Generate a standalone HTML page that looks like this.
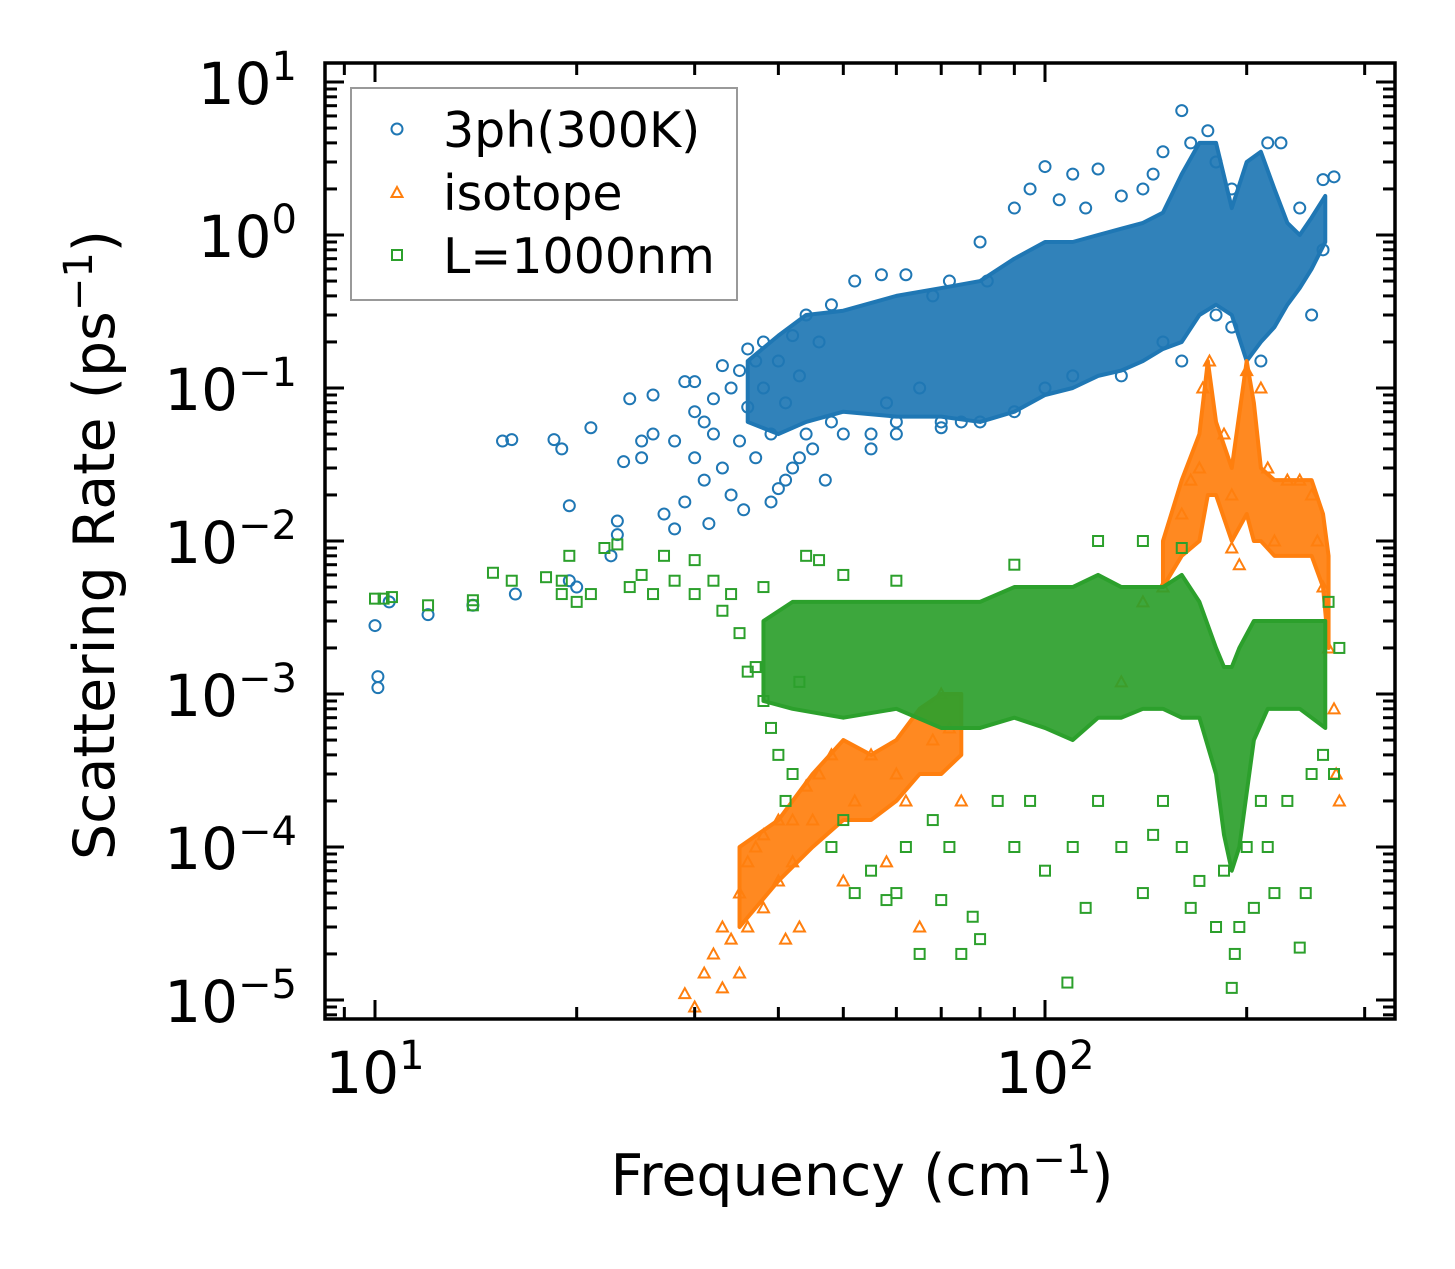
<!DOCTYPE html>
<html><head><meta charset="utf-8"><style>
html,body{margin:0;padding:0;background:#fff;}
svg{display:block;font-family:"DejaVu Sans","Liberation Sans",sans-serif;}
</style></head><body>
<svg id="chart" width="1455" height="1269" viewBox="0 0 1455 1269" xmlns="http://www.w3.org/2000/svg">
<rect width="1455" height="1269" fill="#fff"/>
<g id="marks"></g>
<g id="axes"></g>
<text transform="translate(114,545) rotate(-90)" text-anchor="middle" font-size="57">Scattering Rate (ps<tspan dy="-22" font-size="40">−1</tspan><tspan dy="22">)</tspan></text>
<text x="862" y="1195" text-anchor="middle" font-size="57">Frequency (cm<tspan dy="-22" font-size="40">−1</tspan><tspan dy="22">)</tspan></text>
<g>
<rect x="351" y="88" width="386" height="212" fill="#fff" fill-opacity="0.8" stroke="#999" stroke-width="2"/>
<g><circle cx="397" cy="129" r="5.5" fill="none" stroke="#1f77b4" stroke-width="2"/><text x="443" y="147" font-size="49">3ph(300K)</text></g>
<g><polygon points="397,187 402.5,197 391.5,197" fill="none" stroke="#ff7f0e" stroke-width="2"/><text x="443" y="210" font-size="49">isotope</text></g>
<g><rect x="392" y="250" width="10" height="10" fill="none" stroke="#2ca02c" stroke-width="2"/><text x="443" y="273" font-size="49">L=1000nm</text></g>
</g>
</svg>
<script>
// ---- data ----
const xTicks=[10,100];
const yTicks=[-5,-4,-3,-2,-1,0,1];
const blueFreq=[10,10.1,10.1,10.5,12,14,15.5,16,16.2,18.5,19,19.5,19.5,20,21,22.5,23,23,23.5,24,25,25,26,26,27,28,28,29,29,30,30,30,31,31,31.5,32,32,33,33,34,34,35,35,35.5,36,36,37,37,38,38,39,39,40,40,41,41,42,42,43,43,44,44,45,46,47,48,48,50,52,55,57,58,60,62,65,68,70,72,75,80,82,90,95,100,105,110,115,120,130,140,145,150,160,165,175,180,190,215,225,240,260,270,260,250,210,190,180,160,150,130,110,100,90,80,70,60,55];
const blueRate=[0.0028,0.0013,0.0011,0.004,0.0033,0.0038,0.045,0.046,0.0045,0.046,0.04,0.017,0.0055,0.005,0.055,0.008,0.011,0.0135,0.033,0.085,0.035,0.045,0.09,0.05,0.015,0.012,0.045,0.11,0.018,0.11,0.07,0.035,0.06,0.025,0.013,0.085,0.05,0.14,0.03,0.02,0.1,0.13,0.045,0.016,0.18,0.075,0.035,0.15,0.2,0.1,0.05,0.018,0.022,0.15,0.08,0.025,0.22,0.03,0.12,0.035,0.3,0.05,0.04,0.2,0.025,0.35,0.06,0.05,0.5,0.04,0.55,0.08,0.06,0.55,0.1,0.4,0.06,0.5,0.06,0.9,0.5,1.5,2,2.8,1.7,2.5,1.5,2.7,1.8,2,2.5,3.5,6.5,4,4.8,3,2,4,4,1.5,2.3,2.4,0.8,0.3,0.15,0.25,0.3,0.15,0.2,0.12,0.12,0.1,0.07,0.06,0.055,0.05,0.05];
const blueBandFreq=[36,40,44,50,60,70,80,90,100,110,120,130,140,150,160,170,180,190,200,210,220,230,240,250,262];
const blueBandLo=[0.06,0.05,0.06,0.07,0.065,0.065,0.06,0.07,0.09,0.1,0.12,0.13,0.15,0.18,0.2,0.3,0.35,0.3,0.15,0.2,0.25,0.35,0.45,0.6,0.9];
const blueBandHi=[0.15,0.22,0.3,0.32,0.4,0.45,0.5,0.7,0.9,0.9,1.0,1.1,1.2,1.4,2.5,4,4,1.5,3,3.5,2,1.2,1.0,1.3,1.8];
const orangeFreq=[29,30,31,32,33,33,34,35,35,36,36,37,38,38,40,40,41,42,42,43,44,45,46,48,50,52,55,58,60,62,65,68,70,72,75,130,140,150,160,165,170,172,176,185,190,200,210,215,220,230,240,250,255,260,265,270,272,275,195,190];
const orangeRate=[1.1e-5,9e-6,1.5e-5,2e-5,1.2e-5,3e-5,2.5e-5,5e-5,1.5e-5,8e-5,3e-5,1e-4,4e-5,1.2e-4,1.5e-4,6e-5,2.5e-5,1.5e-4,8e-5,3e-5,2.5e-4,1.5e-4,3e-4,4e-4,6e-5,2e-4,4e-4,8e-5,3e-4,2e-4,3e-5,5e-4,1e-3,6e-4,2e-4,1.2e-3,4e-3,5e-3,0.015,0.025,0.03,0.1,0.15,0.05,0.02,0.13,0.1,0.03,0.01,0.025,0.025,0.02,0.01,0.005,2e-3,8e-4,3e-4,2e-4,7e-3,9e-3];
const orangeBandLowFreq=[35,40,45,50,55,60,65,70,75];
const orangeBandLowLo=[3e-5,6e-5,1e-4,1.5e-4,1.5e-4,2e-4,3e-4,3e-4,4e-4];
const orangeBandLowHi=[1e-4,1.5e-4,3e-4,5e-4,4e-4,5e-4,8e-4,1e-3,1e-3];
const orangeBandHighFreq=[150,160,170,175,180,190,200,205,210,220,230,240,250,260,265];
const orangeBandHighLo=[0.005,0.008,0.01,0.02,0.02,0.01,0.015,0.01,0.01,0.008,0.008,0.008,0.008,0.005,0.002];
const orangeBandHighHi=[0.01,0.025,0.05,0.15,0.06,0.03,0.15,0.08,0.03,0.025,0.025,0.025,0.025,0.015,0.008];
const greenFreq=[10,10.3,10.6,12,14,14,15,16,18,19,19,19.5,20,21,22,23,24,25,26,27,28,30,30,32,33,34,35,36,37,38,38,39,40,41,42,43,44,46,48,50,52,55,58,60,62,65,68,70,72,75,78,80,85,90,95,100,108,110,115,120,130,140,145,150,160,165,170,180,185,190,192,195,200,205,210,215,220,230,240,245,250,260,270,275,265,120,140,160,90,60,50];
const greenRate=[0.0042,0.0042,0.0043,0.0038,0.0041,0.0038,0.0062,0.0055,0.0058,0.0055,0.0045,0.008,0.004,0.0045,0.009,0.0095,0.005,0.006,0.0045,0.008,0.0055,0.0045,0.0075,0.0055,0.0035,0.0045,0.0025,0.0014,0.0015,0.005,0.0009,0.0006,0.0004,0.0002,0.0003,0.0012,0.008,0.0075,0.0001,0.00015,5e-5,7e-5,4.5e-5,5e-5,0.0001,2e-5,0.00015,4.5e-5,0.0001,2e-5,3.5e-5,2.5e-5,0.0002,0.0001,0.0002,7e-5,1.3e-5,0.0001,4e-5,0.0002,0.0001,5e-5,0.00012,0.0002,0.0001,4e-5,6e-5,3e-5,7e-5,1.2e-5,2e-5,3e-5,0.0001,4e-5,0.0002,0.0001,5e-5,0.0002,2.2e-5,5e-5,0.0003,0.0004,0.0003,0.002,0.004,0.01,0.01,0.009,0.007,0.0055,0.006];
const greenBandFreq=[38,42,50,60,70,80,90,100,110,120,130,140,150,160,170,180,185,190,195,205,215,240,262];
const greenBandLo=[0.0009,0.0008,0.0007,0.0008,0.0006,0.0006,0.0007,0.0006,0.0005,0.0007,0.0007,0.0008,0.0008,0.0007,0.0007,0.0003,0.00012,0.00007,0.0001,0.0005,0.0008,0.0008,0.0006];
const greenBandHi=[0.003,0.004,0.004,0.004,0.004,0.004,0.005,0.005,0.005,0.006,0.005,0.005,0.005,0.006,0.004,0.002,0.0015,0.0015,0.002,0.003,0.003,0.003,0.003];

// ---- scales ----
const L=325,R=1395,T=63,B=1019;
const x=f=>375+(Math.log10(f)-1)*670;
const y=v=>82+(1-Math.log10(v))*153;
const NS="http://www.w3.org/2000/svg";
const marks=document.getElementById('marks');
const axes=document.getElementById('axes');
function mk(tag,attrs,parent){const e=document.createElementNS(NS,tag);for(const k in attrs)e.setAttribute(k,attrs[k]);parent.appendChild(e);return e;}

const clip=mk('clipPath',{id:'pc'},marks);mk('rect',{x:L,y:T,width:R-L,height:B-T},clip);
const layer=mk('g',{'clip-path':'url(#pc)'},marks);

function band(fr,lo,hi,color,name){
  const pts=fr.map((f,i)=>x(f)+','+y(hi[i])).concat(fr.slice().reverse().map((f,i)=>x(f)+','+y(lo[fr.length-1-i])));
  const p=mk('polygon',{points:pts.join(' '),fill:color,'fill-opacity':'0.92',stroke:color,'stroke-width':4,'stroke-linejoin':'round'},layer);
  
  
}
function scatter(fr,rt,color,shape,name){
  const g=mk('g',{fill:'none',stroke:color,'stroke-width':2},layer);
  
  
  fr.forEach((f,i)=>{
    const cx=x(f),cy=y(rt[i]);let e;
    if(shape==='c')e=mk('circle',{cx:cx,cy:cy,r:5.5},g);
    else if(shape==='t')e=mk('polygon',{points:`${cx},${cy-5.5} ${cx+5.5},${cy+4.5} ${cx-5.5},${cy+4.5}`},g);
    else e=mk('rect',{x:cx-5,y:cy-5,width:10,height:10},g);
    
    
  });
}
band(blueBandFreq,blueBandLo,blueBandHi,'#1f77b4','3ph-dense-region');
scatter(blueFreq,blueRate,'#1f77b4','c','3ph-series');
band(orangeBandLowFreq,orangeBandLowLo,orangeBandLowHi,'#ff7f0e','isotope-dense-low');
band(orangeBandHighFreq,orangeBandHighLo,orangeBandHighHi,'#ff7f0e','isotope-dense-high');
scatter(orangeFreq,orangeRate,'#ff7f0e','t','isotope-series');
band(greenBandFreq,greenBandLo,greenBandHi,'#2ca02c','boundary-dense-region');
scatter(greenFreq,greenRate,'#2ca02c','s','boundary-series');

// ---- axes ----
mk('rect',{x:L,y:T,width:R-L,height:B-T,fill:'none',stroke:'#000','stroke-width':3.5},axes);
const tk=mk('g',{stroke:'#000','stroke-width':3},axes);
for(let d=0;d<=2;d++)for(let m=1;m<10;m++){
  const f=m*Math.pow(10,d);const px=x(f);if(px<L+2||px>R-2)continue;
  const len=m===1?19:12;
  mk('line',{x1:px,y1:B,x2:px,y2:B-len},tk);mk('line',{x1:px,y1:T,x2:px,y2:T+len},tk);
}
for(let d=-6;d<=1;d++)for(let m=1;m<10;m++){
  const v=m*Math.pow(10,d);const py=y(v);if(py<T+2||py>B-2)continue;
  const len=m===1?19:12;
  mk('line',{x1:L,y1:py,x2:L+len,y2:py},tk);mk('line',{x1:R,y1:py,x2:R-len,y2:py},tk);
}
xTicks.forEach(f=>{
  const t=mk('text',{x:x(f),y:1093,'text-anchor':'middle','font-size':58},axes);
  
  
  t.appendChild(document.createTextNode('10'));
  const s=mk('tspan',{dy:-24,'font-size':40},t);s.textContent=String(Math.round(Math.log10(f)));
});
yTicks.forEach(e=>{
  const t=mk('text',{x:297,y:y(Math.pow(10,e))+22,'text-anchor':'end','font-size':58},axes);
  
  
  t.appendChild(document.createTextNode('10'));
  const s=mk('tspan',{dy:-24,'font-size':40},t);s.textContent=(e<0?'−':'')+Math.abs(e);
});
</script>
</body></html>
